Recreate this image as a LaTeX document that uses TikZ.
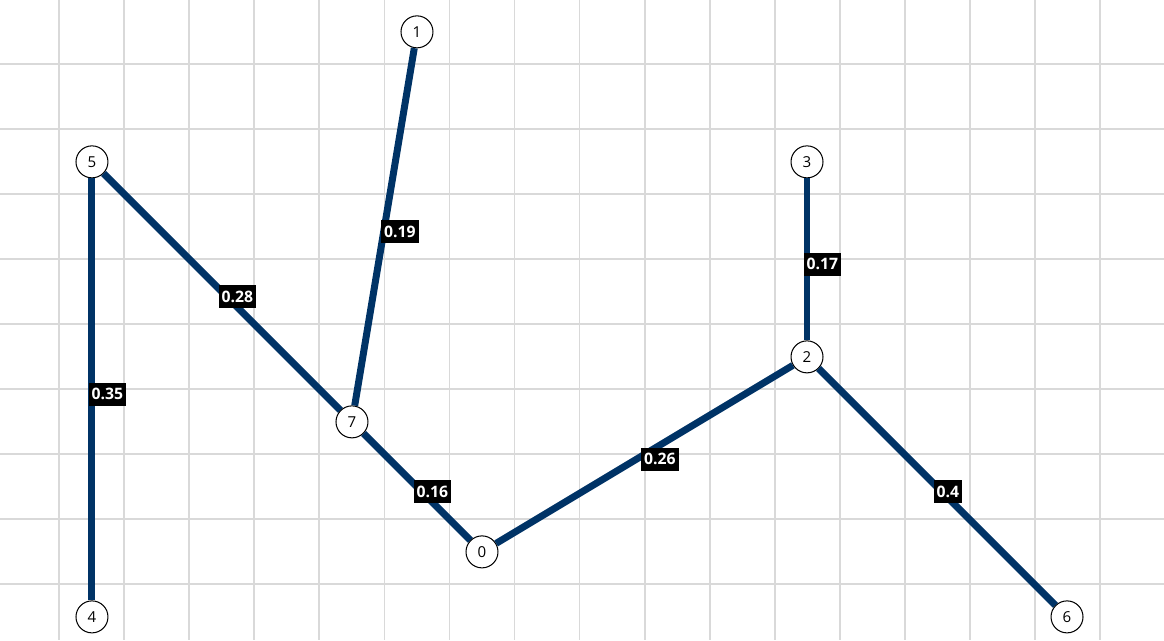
\documentclass[tikz,border=0pt]{standalone}
\usepackage{fontspec}
\setmainfont{Open Sans}
\definecolor{gridgray}{RGB}{217,217,217}
\definecolor{edgeblue}{RGB}{0,51,102}
\tikzset{
  vertex/.style={circle,draw=black,line width=0.45pt,fill=white,minimum size=14pt,inner sep=0pt,font=\fontsize{6.6}{7}\selectfont},
  wedge/.style={edgeblue,line width=3.05pt},
  wlabel/.style={fill=black,text=white,anchor=west,inner xsep=1.3pt,inner ysep=0pt,minimum height=10.2pt,xshift=-3pt,yshift=-2.1pt,font=\fontsize{6.9}{7}\selectfont\bfseries}
}
\begin{document}
\begin{tikzpicture}[x=1cm,y=-1cm]
  \useasboundingbox (-0.915,-0.99) rectangle (16.992,8.856);
  %grid
  \foreach \i in {0,...,16}
    \draw[gridgray,line width=0.87pt] (\i,-0.99) -- (\i,8.856);
  \foreach \j in {0,...,8}
    \draw[gridgray,line width=0.87pt] (-0.915,\j) -- (16.992,\j);
  %vertices
  \node[vertex] (v0) at (6.5,7.5) {0};
  \node[vertex] (v1) at (5.5,-0.5) {1};
  \node[vertex] (v2) at (11.5,4.5) {2};
  \node[vertex] (v3) at (11.5,1.5) {3};
  \node[vertex] (v4) at (0.5,8.5) {4};
  \node[vertex] (v5) at (0.5,1.5) {5};
  \node[vertex] (v6) at (15.5,8.5) {6};
  \node[vertex] (v7) at (4.5,5.5) {7};
  %weighted edges
  \draw[wedge] (v5) -- node[wlabel] {0.35} (v4);
  \draw[wedge] (v5) -- node[wlabel] {0.28} (v7);
  \draw[wedge] (v7) -- node[wlabel] {0.19} (v1);
  \draw[wedge] (v7) -- node[wlabel] {0.16} (v0);
  \draw[wedge] (v0) -- node[wlabel] {0.26} (v2);
  \draw[wedge] (v3) -- node[wlabel] {0.17} (v2);
  \draw[wedge] (v2) -- node[wlabel] {0.4} (v6);
\end{tikzpicture}
\end{document}
